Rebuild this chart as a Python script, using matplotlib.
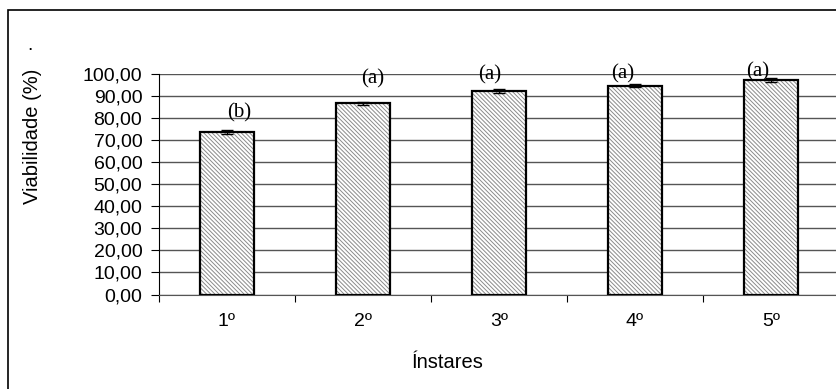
import numpy as np
import matplotlib
matplotlib.use("Agg")
import matplotlib.pyplot as plt
from matplotlib.patches import Rectangle

# data
instares = ["1º", "2º", "3º", "4º", "5º"]
viabilidade = [73.6, 86.7, 92.3, 94.7, 97.3]
erro = [1.0, 0.8, 0.8, 0.7, 0.8]
letras = ["(b)", "(a)", "(a)", "(a)", "(a)"]
letra_y = [82.3, 97.7, 99.5, 100.0, 100.9]
letra_dx = [0.09, 0.07, -0.07, -0.09, -0.10]

plt.rcParams['font.family'] = ['Liberation Sans', 'DejaVu Sans']
plt.rcParams['hatch.linewidth'] = 0.7

fig = plt.figure(figsize=(8.37, 3.89), dpi=100)
ax = fig.add_axes([159 / 837, 1 - 294.5 / 389, 680 / 837, (294.5 - 74) / 389])

x = np.arange(1, len(instares) + 1)

# hatch in gray, then black outline on top
ax.bar(x, viabilidade, width=0.4, color="white", edgecolor="#8a8a8a",
       hatch="\\" * 8, linewidth=0, zorder=3)
ax.bar(x, viabilidade, width=0.4, fill=False, edgecolor="black",
       linewidth=1.6, zorder=4)
ax.errorbar(x, viabilidade, yerr=erro, fmt="none", ecolor="black",
            elinewidth=1, capsize=4, capthick=1, zorder=5)

for xi, l, ly, dx in zip(x, letras, letra_y, letra_dx):
    ax.text(xi + dx, ly, l, ha="center", va="center", fontsize=15,
            family=["Liberation Serif", "DejaVu Serif"], zorder=6)

ax.set_xlim(0.5, 5.5)
ax.set_ylim(0, 100)
ax.set_yticks(np.arange(0, 101, 10))
ax.set_yticklabels([f"{v:.2f}".replace(".", ",") for v in np.arange(0, 101, 10)],
                   fontsize=14)
ax.yaxis.grid(True, color="#555555", linewidth=1)
ax.set_axisbelow(True)

ax.set_xticks(np.arange(0.5, 6.0, 1.0))
ax.set_xticklabels([])
ax.set_xticks(x, minor=True)
ax.set_xticklabels(instares, minor=True, fontsize=14)
ax.tick_params(axis="x", which="major", length=5, direction="out", color="black")
ax.tick_params(axis="x", which="minor", length=0, pad=13)
ax.tick_params(axis="y", length=6, direction="out", pad=6)

for s in ["top", "right"]:
    ax.spines[s].set_visible(False)
ax.spines["left"].set_color("black")
ax.spines["bottom"].set_color("#555555")

fig.text(448 / 837, 1 - 363 / 389, "Ínstares", ha="center", va="center", fontsize=14.5)
fig.text(33 / 837, 1 - 136 / 389, "Viabilidade (%)", ha="center", va="center",
         rotation=90, fontsize=14.5)
fig.text(30 / 837, 1 - 46 / 389, ".", ha="center", va="center", fontsize=14)

# outer frame (cut off at right and bottom)
fig.patches.append(Rectangle((8 / 837, -0.1), 1.2, 1.1 - 10 / 389,
                             transform=fig.transFigure, fill=False,
                             edgecolor="black", linewidth=1.2))

fig.savefig("out.png", dpi=100)
